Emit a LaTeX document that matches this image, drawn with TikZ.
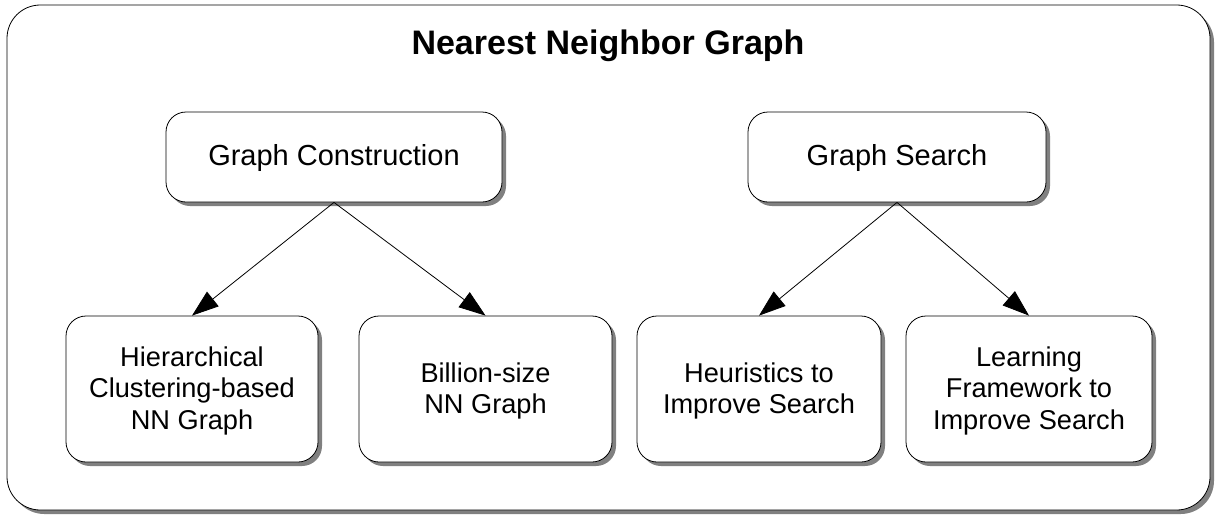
\documentclass[tikz,border=0pt]{standalone}
\usepackage{fontspec}
\setmainfont{Liberation Sans}
\usetikzlibrary{shadows,arrows.meta}

\newcommand{\boxtext}[1]{\raisebox{-2pt}[\height][\depth]{\begin{tabular}{@{}c@{}}#1\end{tabular}}}

\begin{document}
\begin{tikzpicture}[x=0.75pt,y=-0.75pt]

      \useasboundingbox (0,0) rectangle (1216,515);

      \begin{scope}[every node/.style={draw,fill=white,line width=0.6pt,
          general shadow={shadow xshift=3pt,shadow yshift=-3pt,fill=black!50}}]
        \node[rounded corners=25pt,minimum width=902.25pt,minimum height=378.75pt] (frame) at (608.5,257.5) {};
      \end{scope}

      \node[font=\bfseries\fontsize{25.5}{30}\selectfont] (title) at (608,46) {Nearest Neighbor Graph};

      \begin{scope}[every node/.style={draw,fill=white,line width=0.6pt,rounded corners=15pt,
          font=\fontsize{20.4}{23.6}\selectfont,inner sep=0pt,
          general shadow={shadow xshift=3pt,shadow yshift=-3pt,fill=black!50}}]
        \node[font=\fontsize{21.75}{23.6}\selectfont,minimum width=252pt,minimum height=67.5pt]   (gc) at (334,157)   {\boxtext{Graph Construction}};
        \node[font=\fontsize{21.75}{23.6}\selectfont,minimum width=223.5pt,minimum height=67.5pt] (gs) at (897,157)   {\boxtext{Graph Search}};
        \node[minimum width=189pt,minimum height=109.5pt]  (hc) at (192,389)   {\boxtext{Hierarchical\\Clustering-based\\NN Graph}};
        \node[minimum width=189.75pt,minimum height=109.5pt] (bs) at (485.5,389) {\boxtext{Billion-size\\NN Graph}};
        \node[minimum width=183pt,minimum height=109.5pt]  (hs) at (759,389)   {\boxtext{Heuristics to\\Improve Search}};
        \node[minimum width=184.5pt,minimum height=109.5pt] (lf) at (1029,389) {\boxtext{Learning\\Framework to\\Improve Search}};
      \end{scope}

      \begin{scope}[every edge/.style={draw,line width=0.6pt,-{Triangle[length=20pt,width=14pt]}}]
        \path (gc.south) edge (hc.north);
        \path (gc.south) edge (bs.north);
        \path (gs.south) edge (hs.north);
        \path (gs.south) edge (lf.north);
      \end{scope}

    \end{tikzpicture}
\end{document}
